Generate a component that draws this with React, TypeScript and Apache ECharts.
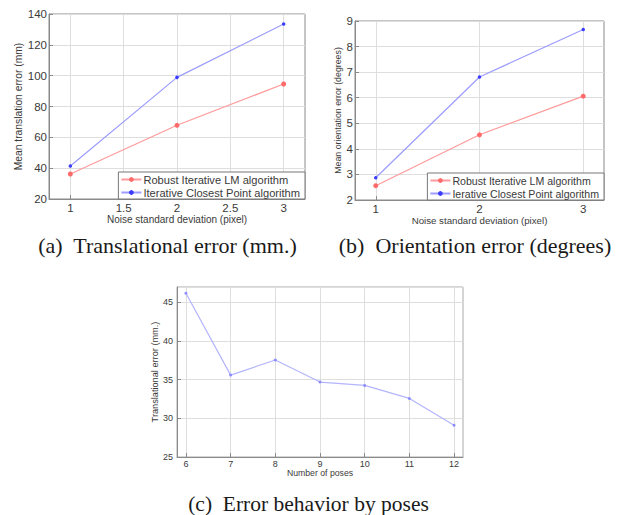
import React, { useEffect, useRef } from "react";
import * as echarts from "echarts";

// ---- data ----
const noiseLevels = [1, 2, 3];
const robustTrans = [36.2, 67.8, 94.6];
const icpTrans = [41.4, 98.9, 133.5];
const robustOrient = [2.56, 4.55, 6.06];
const icpOrient = [2.87, 6.81, 8.67];
const poses = [6, 7, 8, 9, 10, 11, 12];
const poseErrors = [46.2, 35.6, 37.55, 34.7, 34.26, 32.58, 29.1];

const xTicksA = [1, 1.5, 2, 2.5, 3];
const xTicksB = [1, 2, 3];
const xTicksC = [6, 7, 8, 9, 10, 11, 12];

const robustName = "Robust Iterative LM algorithm";
const icpNameA = "Iterative Closest Point algorithm";
const icpNameB = "Ierative Closest Point algorithm";

const captionA = "(a)  Translational error (mm.)";
const captionB = "(b)  Orientation error (degrees)";
const captionC = "(c)  Error behavior by poses";

const RED_LINE = "#ff9a9a";
const RED_DOT = "#ff6a6a";
const BLUE_LINE = "#9c9cff";
const BLUE_DOT = "#3c3cff";
const AXIS = "#8a8a8a";
const TEXT = "#3a3a3a";
const GRIDLINE = "#dedede";
const SANS = "'Liberation Sans', Arial, sans-serif";
const SERIF = "'Liberation Serif', 'Times New Roman', serif";

function xAxis(gridIndex: number, min: number, max: number, ticks: number[], name: string, fs: number, nfs: number, gap: number, labelMargin: number) {
  return {
    type: "value",
    gridIndex,
    min,
    max,
    name,
    nameLocation: "middle",
    nameGap: gap,
    nameTextStyle: { fontFamily: SANS, fontSize: nfs, color: TEXT },
    axisLine: { show: true, lineStyle: { color: AXIS, width: 1 } },
    axisTick: { show: true, inside: true, length: 4, customValues: ticks, lineStyle: { color: AXIS } },
    axisLabel: { customValues: ticks, fontFamily: SANS, fontSize: fs, color: TEXT, margin: labelMargin, showMinLabel: true, showMaxLabel: true },
    splitLine: { show: false },
  };
}

function yAxis(gridIndex: number, min: number, max: number, interval: number, name: string, fs: number, nfs: number, gap: number, labelMargin: number, showMax: boolean) {
  return {
    type: "value",
    gridIndex,
    min,
    max,
    interval,
    name,
    nameLocation: "middle",
    nameGap: gap,
    nameTextStyle: { fontFamily: SANS, fontSize: nfs, color: TEXT },
    axisLine: { show: true, lineStyle: { color: AXIS, width: 1 } },
    axisTick: { show: true, inside: true, length: 4, lineStyle: { color: AXIS } },
    axisLabel: { fontFamily: SANS, fontSize: fs, color: TEXT, margin: labelMargin, showMaxLabel: showMax },
    splitLine: { show: true, lineStyle: { color: GRIDLINE, width: 1 } },
  };
}

// vertical grid lines at the custom tick positions
function gridLines(xi: number, yi: number, ticks: number[]) {
  return {
    type: "line",
    name: "__grid" + xi,
    xAxisIndex: xi,
    yAxisIndex: yi,
    data: [],
    z: 0,
    silent: true,
    markLine: {
      silent: true,
      z: 0,
      symbol: ["none", "none"],
      label: { show: false },
      lineStyle: { color: GRIDLINE, width: 1, type: "solid" },
      emphasis: { disabled: true },
      data: ticks.map((t) => ({ xAxis: t })),
    },
  };
}

function lineSeries(name: string, xi: number, yi: number, xs: number[], ys: number[], lineColor: string, dotColor: string, symbolSize: number) {
  return {
    type: "line",
    name,
    xAxisIndex: xi,
    yAxisIndex: yi,
    data: xs.map((x, i) => [x, ys[i]]),
    symbol: "circle",
    symbolSize,
    showSymbol: true,
    z: 3,
    lineStyle: { color: lineColor, width: 1.2 },
    itemStyle: { color: dotColor, borderWidth: 0 },
    color: lineColor,
    emphasis: { disabled: true },
  };
}

function legend(names: string[], right: number, bottom: number, fontSize: number) {
  return {
    show: true,
    data: names,
    orient: "vertical",
    right,
    bottom,
    itemWidth: 20,
    itemHeight: 6,
    itemGap: 2,
    padding: [2, 5, 1, 2],
    borderColor: "#777",
    borderWidth: 1,
    backgroundColor: "#fff",
    z: 8,
    textStyle: { fontFamily: SANS, fontSize, color: TEXT, padding: [0, 0, 0, -3] },
    selectedMode: false,
  };
}

export default function App() {
  const ref = useRef<HTMLDivElement>(null);
  useEffect(() => {
    if (!ref.current) return;
    const chart = echarts.init(ref.current, null, { renderer: "svg" });
    const option: any = {
      animation: false,
      backgroundColor: "#fff",
      grid: [
        { left: 49, top: 14, width: 256, height: 185, show: true, borderColor: AXIS, borderWidth: 1, backgroundColor: "#fff" },
        { left: 355, top: 21, width: 249, height: 179, show: true, borderColor: AXIS, borderWidth: 1, backgroundColor: "#fff" },
        { left: 177, top: 287, width: 286, height: 170, show: true, borderColor: "#aaa", borderWidth: 1, backgroundColor: "#fff" },
      ],
      xAxis: [
        xAxis(0, 0.8, 3.2, xTicksA, "Noise standard deviation (pixel)", 11.5, 10, 15, 3),
        xAxis(1, 0.8, 3.2, xTicksB, "Noise standard deviation (pixel)", 11.5, 9.7, 15, 3),
        xAxis(2, 5.8, 12.2, xTicksC, "Number of poses", 9, 8.7, 11, 2),
      ],
      yAxis: [
        yAxis(0, 20, 140, 20, "Mean translation error (mm)", 11.5, 10.3, 26, 2),
        yAxis(1, 2, 9, 1, "Mean orientation error (degrees)", 11.5, 8.8, 10, 2),
        yAxis(2, 25, 47, 5, "Translational error (mm.)", 9, 9.2, 12, 4, false),
      ],
      legend: [
        legend([robustName, icpNameA], 619 - 305, 515 - 199, 11.1),
        legend([robustName, icpNameB], 619 - 604, 515 - 200, 10.6),
      ],
      series: [
        gridLines(0, 0, xTicksA),
        gridLines(1, 1, xTicksB),
        gridLines(2, 2, xTicksC),
        lineSeries(robustName, 0, 0, noiseLevels, robustTrans, RED_LINE, RED_DOT, 5),
        lineSeries(icpNameA, 0, 0, noiseLevels, icpTrans, BLUE_LINE, BLUE_DOT, 3.5),
        lineSeries(robustName, 1, 1, noiseLevels, robustOrient, RED_LINE, RED_DOT, 5),
        lineSeries(icpNameB, 1, 1, noiseLevels, icpOrient, BLUE_LINE, BLUE_DOT, 3.5),
        lineSeries("Error", 2, 2, poses, poseErrors, "#b4b4ff", "#8c8cff", 3),
      ],
      graphic: [
        { type: "text", x: 167.5, y: 245, silent: true, style: { text: captionA, font: `22px ${SERIF}`, fill: "#1a1a1a", align: "center", verticalAlign: "middle" } },
        { type: "text", x: 475, y: 245, silent: true, style: { text: captionB, font: `22px ${SERIF}`, fill: "#1a1a1a", align: "center", verticalAlign: "middle" } },
        { type: "text", x: 308.5, y: 504, silent: true, style: { text: captionC, font: `21.5px ${SERIF}`, fill: "#1a1a1a", align: "center", verticalAlign: "middle" } },
      ],
    };
    chart.setOption(option);
    return () => chart.dispose();
  }, []);
  return (
    <div
      ref={ref}
      style={{ position: "fixed", left: 0, top: 0, width: 619, height: 515, background: "#fff" }}
    />
  );
}
